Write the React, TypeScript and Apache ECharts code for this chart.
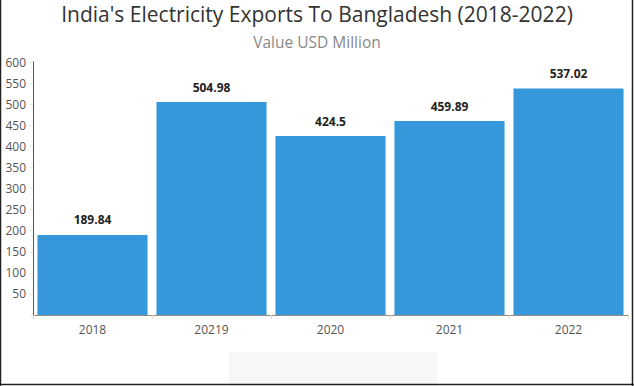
import React, { useEffect, useRef } from "react";
import * as echarts from "echarts";

const categories = ["2018", "20219", "2020", "2021", "2022"];
const values = [189.84, 504.98, 424.5, 459.89, 537.02];
const valueLabels = ["189.84", "504.98", "424.5", "459.89", "537.02"];

export default function App() {
  const ref = useRef<HTMLDivElement>(null);
  useEffect(() => {
    document.body.style.margin = "0";
    const chart = echarts.init(ref.current!, null, { renderer: "svg" });
    chart.setOption({
      animation: false,
      backgroundColor: "#ffffff",
      textStyle: { fontFamily: "Open Sans" },
      title: [
        {
          text: "India's Electricity Exports To Bangladesh (2018-2022)",
          left: "center",
          top: -2,
          textStyle: { fontFamily: "Open Sans", fontSize: 21, fontWeight: "normal", color: "#333" },
        },
        {
          text: "Value USD Million",
          left: "center",
          top: 29,
          textStyle: { fontFamily: "Open Sans", fontSize: 15.5, fontWeight: "normal", color: "#888" },
        },
      ],
      grid: { left: 33, right: 6, top: 62, bottom: 71, containLabel: false },
      xAxis: {
        type: "category",
        data: categories,
        axisLine: { show: true, lineStyle: { color: "#9a8f86", width: 1 } },
        axisTick: { show: true, length: 4, lineStyle: { color: "#e6d8c8" } },
        axisLabel: { color: "#555", fontSize: 12, fontFamily: "Open Sans", margin: 8 },
      },
      yAxis: {
        type: "value",
        min: 0,
        max: 600,
        interval: 50,
        splitLine: { show: false },
        axisLine: { show: true, lineStyle: { color: "#555", width: 1 } },
        axisTick: { show: true, length: 3, lineStyle: { color: "#e5e5e5" } },
        axisLabel: {
          color: "#555",
          fontSize: 12,
          fontFamily: "Open Sans",
          margin: 7,
          formatter: (v: number) => (v === 0 ? "" : String(v)),
        },
      },
      series: [
        {
          type: "bar",
          data: values,
          barCategoryGap: "7.5%",
          itemStyle: { color: "#3498db" },
          label: {
            show: true,
            position: "top",
            distance: 9,
            color: "#222",
            fontSize: 12,
            fontWeight: "bold",
            fontFamily: "Open Sans",
            formatter: (p: any) => valueLabels[p.dataIndex],
          },
        },
      ],
      graphic: [
        { type: "rect", shape: { x: 229, y: 352, width: 208, height: 34 }, style: { fill: "#f7f7f7" }, z: 0 },
        { type: "line", shape: { x1: 0.5, y1: 0, x2: 0.5, y2: 386 }, style: { stroke: "#222", lineWidth: 1.5 } },
        { type: "line", shape: { x1: 632.5, y1: 0, x2: 632.5, y2: 386 }, style: { stroke: "#222", lineWidth: 1.5 } },
        { type: "line", shape: { x1: 0, y1: 384.5, x2: 634, y2: 384.5 }, style: { stroke: "#222", lineWidth: 1.5 } },
      ],
    });
    return () => chart.dispose();
  }, []);
  return <div ref={ref} style={{ position: "fixed", left: 0, top: 0, width: 634, height: 386 }} />;
}
